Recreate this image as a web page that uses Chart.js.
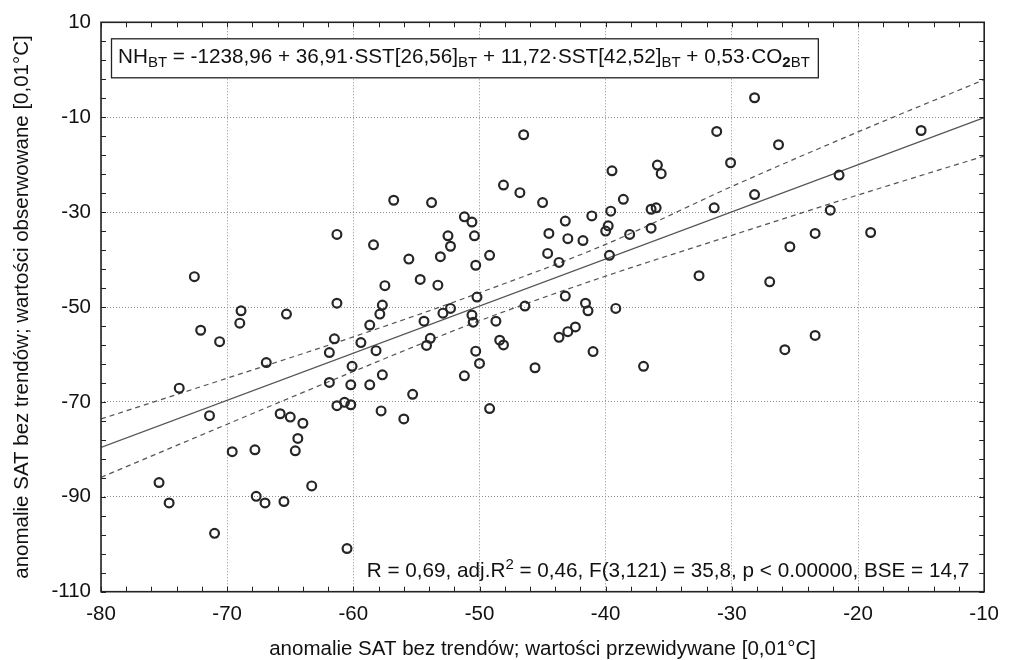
<!DOCTYPE html>
<html>
<head>
<meta charset="utf-8">
<script src="https://cdn.jsdelivr.net/npm/chart.js@4.4.1/dist/chart.umd.min.js"></script>
<style>
    html, body { margin: 0; padding: 0; background: #fff; }
</style>
</head>
<body>
<canvas id="chart" width="1009" height="660"></canvas>
<script>
const predicted = [
    -68.9, -72.1, -69.0, -65.3, -70.6, -66.9, -73.8, -71.4, -65.8, -65.0,
    -64.0, -64.4, -64.6, -69.6, -67.8, -75.4, -74.6, -67.7, -67.0, -65.5,
    -63.3, -71.0, -60.5, -61.3, -57.7, -57.9, -58.7, -61.5, -59.4, -61.9,
    -58.2, -60.1, -61.9, -60.2, -58.7, -57.7, -61.3, -60.7, -60.2, -57.8,
    -72.6, -61.3, -58.4, -57.5, -56.8, -28.2, -31.2, -46.5, -30.1, -39.5,
    -35.9, -35.6, -48.1, -46.8, -53.8, -45.0, -38.6, -28.2, -31.4, -36.4,
    -36.0, -39.6, -41.1, -43.2, -51.2, -50.6, -52.5, -52.3, -50.4, -44.5,
    -43.0, -41.8, -39.8, -40.0, -38.1, -36.4, -55.6, -53.1, -49.2, -50.3,
    -44.6, -43.7, -39.7, -32.6, -27.0, -54.7, -53.3, -50.2, -43.2, -52.9,
    -52.3, -50.6, -50.5, -48.7, -46.4, -41.6, -41.4, -39.2, -42.4, -43.0,
    -26.3, -15.0, -21.5, -22.2, -23.4, -19.0, -25.4, -54.4, -53.9, -54.2,
    -50.3, -50.0, -51.2, -48.4, -48.1, -43.7, -41.0, -45.6, -37.0, -55.3,
    -56.0, -49.2, -23.4, -25.8
];
const observed = [
    -50.8, -54.9, -53.4, -51.5, -57.3, -61.7, -67.1, -72.9, -72.5, -73.2,
    -74.5, -77.7, -80.3, -80.5, -80.1, -87.0, -91.3, -89.9, -91.3, -91.0,
    -87.7, -97.7, -100.9, -49.2, -49.6, -51.5, -53.8, -56.7, -57.5, -59.6,
    -59.2, -62.5, -65.9, -66.4, -66.4, -64.3, -70.8, -70.1, -70.6, -71.9,
    -43.6, -34.7, -36.9, -45.5, -27.5, -5.9, -13.0, -13.7, -19.6, -21.3,
    -20.1, -21.9, -24.3, -25.9, -28.0, -28.0, -27.3, -26.3, -29.1, -29.4,
    -29.1, -29.8, -30.8, -31.9, -31.0, -32.1, -35.0, -37.2, -35.0, -34.5,
    -35.6, -36.0, -32.9, -34.0, -34.7, -33.4, -39.9, -39.4, -39.1, -41.2,
    -38.7, -40.6, -39.1, -43.4, -44.7, -44.2, -45.4, -47.9, -47.7, -51.3,
    -50.3, -51.7, -53.2, -53.0, -49.8, -49.2, -50.8, -50.3, -54.2, -55.2,
    -15.8, -12.8, -22.2, -29.6, -34.5, -34.3, -37.3, -53.0, -56.6, -58.1,
    -59.3, -61.9, -64.5, -57.0, -58.0, -56.4, -59.4, -62.8, -62.5, -68.4,
    -73.6, -71.4, -56.0, -59.0
];

const fitX = [-80, -10];
const fitY = [-79.6, -10.1];

const bandX = [-80, -70, -60, -50, -40, -30, -20, -10];
const upperBand = [-73.6, -65.0, -56.3, -47.0, -36.8, -24.6, -13.1, -2.1];
const lowerBand = [-85.9, -74.7, -63.6, -52.9, -43.5, -34.9, -26.4, -18.2];

const xRange = [-80, -10];
const yRange = [-110, 10];

const xTitle = "anomalie SAT bez trendów; wartości przewidywane [0,01°C]";
const yTitle = "anomalie SAT bez trendów; wartości obserwowane [0,01°C]";

const equationText = [
    ["NH", "n"], ["BT", "sub"],
    [" = -1238,96 + 36,91·SST[26,56]", "n"], ["BT", "sub"],
    [" + 11,72·SST[42,52]", "n"], ["BT", "sub"],
    [" + 0,53·CO", "n"], ["2", "subBold"], ["BT", "sub"]
];
const statsText = [
    ["R = 0,69, adj.R", "n"], ["2", "sup"],
    [" = 0,46, F(3,121) = 35,8, p < 0.00000, BSE = 14,7", "n"]
];

const FONT = "'Liberation Sans', Arial, sans-serif";

function toPoints(xs, ys) {
    return xs.map((x, i) => ({ x: x, y: ys[i] }));
}

function pieceFont(kind) {
    if (kind === "subBold") return "bold 15px " + FONT;
    if (kind === "sub" || kind === "sup") return "15px " + FONT;
    return "20.7px " + FONT;
}

function pieceShift(kind) {
    if (kind === "sub" || kind === "subBold") return 4;
    if (kind === "sup") return -8;
    return 0;
}

function piecesWidth(ctx, pieces) {
    let w = 0;
    pieces.forEach(p => {
        ctx.font = pieceFont(p[1]);
        w += ctx.measureText(p[0]).width;
    });
    return w;
}

function drawPieces(ctx, pieces, x, y) {
    pieces.forEach(p => {
        ctx.font = pieceFont(p[1]);
        ctx.fillText(p[0], x, y + pieceShift(p[1]));
        x += ctx.measureText(p[0]).width;
    });
}

const decorPlugin = {
    id: "decor",
    beforeDraw(chart) {
        const ctx = chart.ctx;
        ctx.save();
        ctx.fillStyle = "#fff";
        ctx.fillRect(0, 0, chart.width, chart.height);
        ctx.restore();
    },
    afterDraw(chart) {
        const ctx = chart.ctx;
        const area = chart.chartArea;
        const xs = chart.scales.x;
        const ys = chart.scales.y;

        ctx.save();
        ctx.strokeStyle = "#222";
        ctx.lineWidth = 1;
        ctx.beginPath();
        for (let v = xRange[0]; v <= xRange[1]; v += 2) {
            const px = Math.round(xs.getPixelForValue(v)) + 0.5;
            ctx.moveTo(px, area.top);
            ctx.lineTo(px, area.top + 5);
            ctx.moveTo(px, area.bottom);
            ctx.lineTo(px, area.bottom - 5);
        }
        for (let v = yRange[0]; v <= yRange[1]; v += 4) {
            const py = Math.round(ys.getPixelForValue(v)) + 0.5;
            ctx.moveTo(area.left, py);
            ctx.lineTo(area.left + 5, py);
            ctx.moveTo(area.right, py);
            ctx.lineTo(area.right - 5, py);
        }
        ctx.stroke();

        ctx.lineWidth = 1.6;
        ctx.strokeRect(area.left, area.top, area.right - area.left, area.bottom - area.top);

        // equation box
        ctx.textBaseline = "alphabetic";
        const eqW = piecesWidth(ctx, equationText);
        const boxL = area.left + 10;
        const boxT = area.top + 16;
        ctx.fillStyle = "#fff";
        ctx.fillRect(boxL, boxT, eqW + 15, 39);
        ctx.lineWidth = 1.3;
        ctx.strokeStyle = "#222";
        ctx.strokeRect(boxL + 0.5, boxT + 0.5, eqW + 15, 39);
        ctx.fillStyle = "#111";
        drawPieces(ctx, equationText, boxL + 7, boxT + 25);

        const stW = piecesWidth(ctx, statsText);
        drawPieces(ctx, statsText, area.right - 15 - stW, area.bottom - 15);
        ctx.restore();
    }
};

const chart = new Chart(document.getElementById("chart"), {
    type: "scatter",
    data: {
        datasets: [
            {
                label: "obserwacje",
                data: toPoints(predicted, observed),
                pointStyle: "circle",
                pointRadius: 4.4,
                pointBorderWidth: 2.2,
                borderColor: "#262626",
                backgroundColor: "rgba(0,0,0,0)"
            },
            {
                label: "regresja",
                data: toPoints(fitX, fitY),
                showLine: true,
                pointRadius: 0,
                borderColor: "#555",
                borderWidth: 1.2
            },
            {
                label: "górny przedział",
                data: toPoints(bandX, upperBand),
                showLine: true,
                pointRadius: 0,
                cubicInterpolationMode: "monotone",
                borderColor: "#555",
                borderWidth: 1.2,
                borderDash: [5, 4]
            },
            {
                label: "dolny przedział",
                data: toPoints(bandX, lowerBand),
                showLine: true,
                pointRadius: 0,
                cubicInterpolationMode: "monotone",
                borderColor: "#555",
                borderWidth: 1.2,
                borderDash: [5, 4]
            }
        ]
    },
    options: {
        responsive: false,
        animation: false,
        layout: {
            padding: { left: 0, right: 16.5, top: 20, bottom: 0 }
        },
        plugins: {
            legend: { display: false },
            tooltip: { enabled: false }
        },
        scales: {
            x: {
                type: "linear",
                min: xRange[0],
                max: xRange[1],
                afterFit: s => { s.height = 68.3; },
                ticks: {
                    stepSize: 10,
                    padding: 10,
                    color: "#111",
                    font: { family: FONT, size: 20.5 }
                },
                grid: {
                    color: "#8c8c8c",
                    lineWidth: 1,
                    drawTicks: false
                },
                border: { display: false, dash: [1, 2] },
                title: {
                    display: true,
                    text: xTitle,
                    color: "#111",
                    font: { family: FONT, size: 20.5 },
                    padding: { top: 0, bottom: -2 }
                }
            },
            y: {
                type: "linear",
                min: yRange[0],
                max: yRange[1],
                afterFit: s => { s.width = 101; },
                ticks: {
                    stepSize: 20,
                    padding: 10,
                    color: "#111",
                    font: { family: FONT, size: 20.5 }
                },
                grid: {
                    color: "#8c8c8c",
                    lineWidth: 1,
                    drawTicks: false
                },
                border: { display: false, dash: [1, 2] },
                title: {
                    display: true,
                    text: yTitle,
                    color: "#111",
                    font: { family: FONT, size: 20.5 },
                    padding: { top: 10, bottom: 0 }
                }
            }
        }
    },
    plugins: [decorPlugin]
});

// pull the plot area top to where the reference has it
const pad = chart.options.layout.padding;
pad.top += 20 - chart.chartArea.top;
chart.update();
</script>
</body>
</html>
